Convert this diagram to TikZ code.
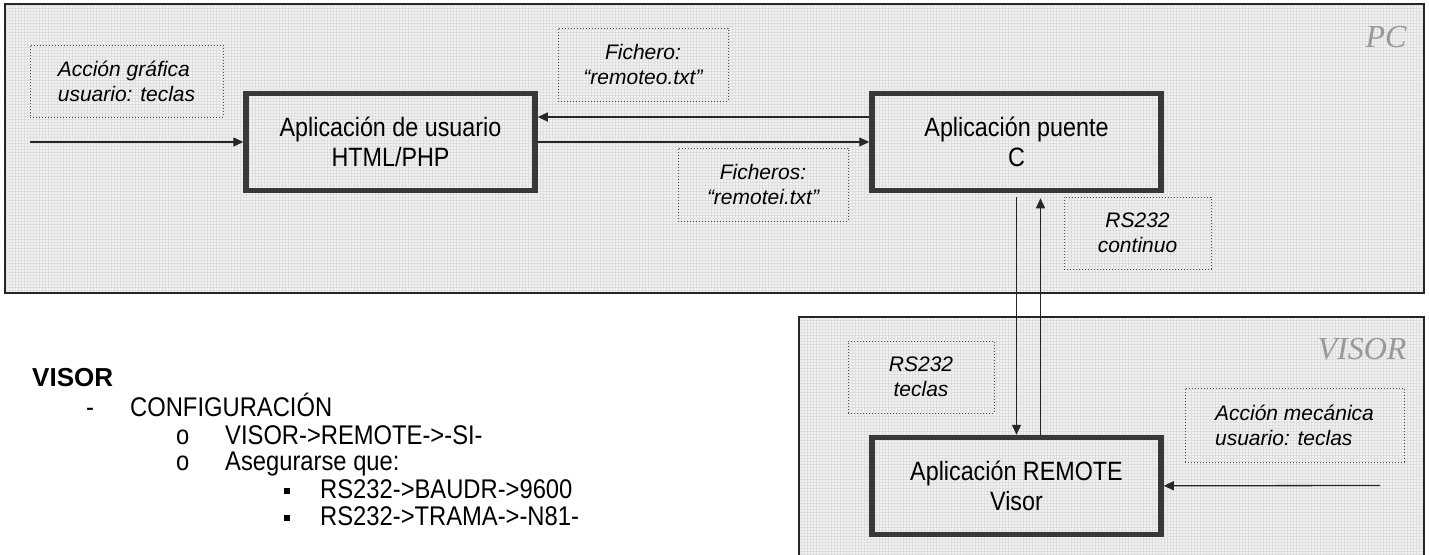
\documentclass[tikz,border=0pt]{standalone}
\usepackage{fontspec}
\setmainfont{Liberation Sans}
\newfontfamily\tagfont{Liberation Serif}
\newfontfamily\narrowfont[FakeStretch=0.88]{Liberation Sans}
\usepackage{tikz}
\usetikzlibrary{positioning, arrows.meta, patterns}
\tikzset{
	node distance = 1em,
	line width = 1pt,
	>={Triangle[length=10pt, width=9pt]},
	ground/.style={fill=black!5},
	grain/.style={pattern=grid, pattern color=black!13},
	frame/.style={draw=black!85, line width=2pt},
	app/.style={
		draw=black!78,
		line width=5.5pt,
		minimum width=289pt,
		minimum height=97pt,
		inner sep=0pt,
		align=center,
		font=\fontsize{26.5}{30}\selectfont\narrowfont
	},
	note/.style={
		draw=black!70,
		dotted,
		line width=1pt,
		inner sep=0pt,
		align=center,
		font=\fontsize{21}{25}\selectfont\itshape
	},
	flow/.style={
		->,
		draw=black!85,
		line width=1.3pt
	},
	tag/.style={anchor=east, text=black!40, font=\fontsize{32}{36}\selectfont\tagfont\itshape},
	item/.style={anchor=base west, inner sep=0pt, font=\fontsize{27}{30}\selectfont\narrowfont},
	square/.style={fill=black, minimum size=6pt, inner sep=0pt}
}

\begin{document}
\begin{tikzpicture}[x=1pt, y=-1pt]
\fill[white] (0,0) rectangle (1429,554);
\useasboundingbox (0,0) rectangle (1429,554);

% ---
% Frames
% ---
\coordinate (pcnw) at (5,4);
\coordinate (pcse) at (1424,293);
\coordinate (visnw) at (799,317);
\coordinate (visse) at (1424,560);
\fill[ground] (pcnw) rectangle (pcse);
\fill[grain] (pcnw) rectangle (pcse);
\draw[frame] (pcnw) rectangle (pcse);
\fill[ground] (visnw) rectangle (visse);
\fill[grain] (visnw) rectangle (visse);
\draw[frame] (visnw) rectangle (visse);
\node[tag] at (1410,37) (pc) {PC};
\node[tag] at (1410,349) (visor) {VISOR};

% ---
% Applications
% ---
\node[app] at (390.5,142) (user) {Aplicación de usuario\\HTML/PHP};
\node[app] at (1016.5,142) (bridge) {Aplicación puente\\C};
\node[app, below=241.5pt of bridge] (remote) {Aplicación REMOTE\\Visor};

% ---
% Notes
% ---
\node[note, align=left, minimum width=193pt, minimum height=72pt] at (126.5,81) (accg) {Acción gráfica\\usuario: teclas};
\node[note, minimum width=170pt, minimum height=73pt] at (643,64.5) (fout) {Fichero:\\“remoteo.txt”};
\node[note, minimum width=170pt, minimum height=73pt] at (763,184.5) (fin) {Ficheros:\\“remotei.txt”};
\node[note, minimum width=147pt, minimum height=72pt] at (1137.5,233) (rsc) {RS232\\continuo};
\node[note, minimum width=146pt, minimum height=72pt] at (921,377) (rst) {RS232\\teclas};
\node[note, align=left, minimum width=219pt, minimum height=74pt] at (1294.5,425) (accm) {Acción mecánica\\usuario: teclas};

% ---
% Connections
% ---
\coordinate (kbd) at (30,142);
\coordinate (keys) at (1380,485.5);
\draw[flow] (kbd) -- (user);
\draw[flow] ([yshift=25pt]bridge.west) -- ([yshift=25pt]user.east);
\draw[flow] (user) -- (bridge);
\draw[flow] ([yshift=-4pt]bridge.south) -- (remote.north);
\draw[flow] ([xshift=24pt]remote.north) -- ([xshift=24pt, yshift=-5pt]bridge.south);
\draw[flow] (keys) -- (remote);

% ---
% Configuration list
% ---
\node[item, font=\fontsize{26}{30}\selectfont\bfseries] at (32,386) (head) {VISOR};
\node[item] at (86,416) (dash) {-};
\node[item] at (130,416) (conf) {CONFIGURACIÓN};
\node[item] at (176,444) (o1) {o};
\node[item] at (225,444) (remon) {VISOR->REMOTE->-SI-};
\node[item] at (176,470) (o2) {o};
\node[item] at (225,470) (check) {Asegurarse que:};
\node[square] at (287,491) (b1) {};
\node[item] at (320,498) (baud) {RS232->BAUDR->9600};
\node[square] at (287,518) (b2) {};
\node[item] at (320,525) (frm) {RS232->TRAMA->-N81-};
\end{tikzpicture}
\end{document}
